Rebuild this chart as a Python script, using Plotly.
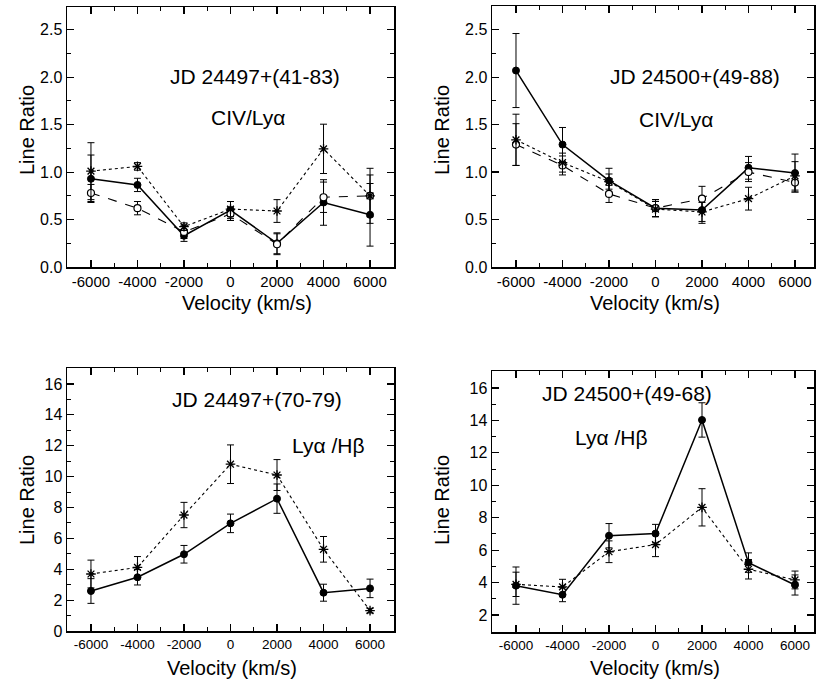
import plotly.graph_objects as go

W, H = 816, 688

velocity = [-6000, -4000, -2000, 0, 2000, 4000, 6000]
x_ticks = [-6000, -4000, -2000, 0, 2000, 4000, 6000]
x_tick_labels = ["-6000", "-4000", "-2000", "0", "2000", "4000", "6000"]

# Panel A: JD 24497+(41-83), CIV/Lya
a_filled = [0.93, 0.865, 0.33, 0.60, 0.25, 0.68, 0.55]
a_filled_err = [0.25, 0.07, 0.06, 0.09, 0.11, 0.24, 0.33]
a_open = [0.78, 0.62, 0.37, 0.56, 0.24, 0.735, 0.75]
a_open_err = [0.09, 0.07, 0.07, 0.07, 0.11, 0.16, 0.22]
a_star = [1.01, 1.06, 0.425, 0.61, 0.59, 1.245, 0.75]
a_star_err = [0.30, 0.04, 0.04, 0.08, 0.12, 0.26, 0.29]

# Panel B: JD 24500+(49-88), CIV/Lya
b_filled = [2.07, 1.29, 0.91, 0.62, 0.60, 1.045, 0.99]
b_filled_err = [0.39, 0.18, 0.13, 0.09, 0.14, 0.12, 0.20]
b_open = [1.29, 1.07, 0.77, 0.62, 0.72, 1.00, 0.89]
b_open_err = [0.22, 0.10, 0.09, 0.09, 0.13, 0.10, 0.10]
b_star = [1.34, 1.10, 0.90, 0.61, 0.58, 0.72, 0.96]
b_star_err = [0.27, 0.10, 0.08, 0.08, 0.10, 0.12, 0.15]

# Panel C: JD 24497+(70-79), Lya/Hb
c_filled = [2.59, 3.48, 4.97, 6.97, 8.57, 2.48, 2.76]
c_filled_err = [0.80, 0.50, 0.57, 0.60, 0.95, 0.55, 0.60]
c_star = [3.69, 4.12, 7.51, 10.8, 10.1, 5.29, 1.32]
c_star_err = [0.90, 0.70, 0.82, 1.25, 1.00, 0.83, 0.15]

# Panel D: JD 24500+(49-68), Lya/Hb
d_filled = [3.81, 3.25, 6.89, 7.02, 14.03, 5.23, 3.85]
d_filled_err = [1.15, 0.43, 0.75, 0.57, 1.06, 0.60, 0.62]
d_star = [3.89, 3.73, 5.90, 6.34, 8.64, 4.82, 4.16]
d_star_err = [0.75, 0.47, 0.67, 0.74, 1.15, 0.60, 0.55]

FONT = "Liberation Sans, Arial, Helvetica, sans-serif"

fig = go.Figure()


def add_series(xa, ya, y, err, kind):
    if kind == "filled":
        marker = dict(symbol="circle", size=7, color="black", line=dict(color="black", width=1))
        line = dict(color="black", width=1.5, dash="solid")
    elif kind == "open":
        marker = dict(symbol="circle", size=7, color="white", line=dict(color="black", width=1.2))
        line = dict(color="black", width=1.1, dash="dash")
    else:
        marker = dict(symbol="asterisk-open", size=8, color="black", line=dict(color="black", width=1.3))
        line = dict(color="black", width=1.1, dash="dot")
    fig.add_trace(go.Scatter(
        x=velocity, y=y, xaxis=xa, yaxis=ya, mode="lines+markers",
        marker=marker, line=line, showlegend=False, hoverinfo="skip",
        error_y=dict(type="data", array=err, visible=True, color="black", thickness=1, width=3.5),
    ))


add_series("x", "y", a_filled, a_filled_err, "filled")
add_series("x", "y", a_open, a_open_err, "open")
add_series("x", "y", a_star, a_star_err, "star")

add_series("x2", "y2", b_filled, b_filled_err, "filled")
add_series("x2", "y2", b_open, b_open_err, "open")
add_series("x2", "y2", b_star, b_star_err, "star")

add_series("x3", "y3", c_filled, c_filled_err, "filled")
add_series("x3", "y3", c_star, c_star_err, "star")

add_series("x4", "y4", d_filled, d_filled_err, "filled")
add_series("x4", "y4", d_star, d_star_err, "star")


def fx(px):
    return px / W


def fy(py):
    return 1 - py / H


def xaxis(left, right, rng, anchor, size=15):
    return dict(
        domain=[fx(left), fx(right)], range=rng, anchor=anchor, automargin=False,
        tickmode="array", tickvals=x_ticks, ticktext=x_tick_labels,
        ticks="inside", ticklen=7, tickwidth=1.2, tickcolor="black",
        showline=True, linecolor="black", linewidth=1.5, mirror="ticks",
        showgrid=False, zeroline=False,
        minor=dict(ticks="inside", dtick=1000, tick0=0, ticklen=4, tickcolor="black", tickwidth=1, showgrid=False),
        tickfont=dict(family=FONT, size=size, color="black"),
    )


def yaxis(top, bottom, rng, anchor, dtick, minor, fmt):
    return dict(
        domain=[fy(bottom), fy(top)], range=rng, anchor=anchor, automargin=False,
        dtick=dtick, tick0=0, tickformat=fmt,
        ticks="inside", ticklen=7, tickwidth=1.2, tickcolor="black",
        showline=True, linecolor="black", linewidth=1.5, mirror="ticks",
        showgrid=False, zeroline=False,
        minor=dict(ticks="inside", dtick=minor, tick0=0, ticklen=4, tickcolor="black", tickwidth=1, showgrid=False),
        tickfont=dict(family=FONT, size=16, color="black"),
    )


fig.update_layout(
    template="none",
    width=W, height=H,
    margin=dict(l=0, r=0, t=0, b=0, pad=0),
    paper_bgcolor="white", plot_bgcolor="white",
    font=dict(family=FONT, color="black"),
    hovermode=False,
    xaxis=xaxis(67, 394, [-7030, 7030], "y"),
    yaxis=yaxis(7, 267, [0, 2.74], "x", 0.5, 0.25, ".1f"),
    xaxis2=xaxis(492, 814, [-7032, 6817], "y2"),
    yaxis2=yaxis(6, 267, [0, 2.75], "x2", 0.5, 0.25, ".1f"),
    xaxis3=xaxis(67, 394, [-7030, 7030], "y3", size=13.5),
    yaxis3=yaxis(368, 631, [0, 17.03], "x3", 2, 1, "d"),
    xaxis4=xaxis(492, 814, [-7032, 6817], "y4", size=13.5),
    yaxis4=yaxis(371, 632, [0.95, 17.05], "x4", 2, 1, "d"),
)

texts = [
    ("JD 24497+(41-83)", 255, 77, 21),
    ("CIV/Ly\u03b1", 248, 118, 21),
    ("JD 24500+(49-88)", 695, 77, 21),
    ("CIV/Ly\u03b1", 676, 120, 21),
    ("JD 24497+(70-79)", 257, 399, 21),
    ("Ly\u03b1 /H\u03b2", 328, 445, 21),
    ("JD 24500+(49-68)", 627, 393, 21),
    ("Ly\u03b1 /H\u03b2", 611, 437, 21),
    ("Velocity (km/s)", 247, 303, 20),
    ("Velocity (km/s)", 655, 303, 20),
    ("Velocity (km/s)", 232, 668, 20),
    ("Velocity (km/s)", 655, 668, 20),
]
for t, px, py, sz in texts:
    fig.add_annotation(
        text=t, x=fx(px), y=fy(py), xref="paper", yref="paper",
        xanchor="center", yanchor="middle", showarrow=False,
        font=dict(family=FONT, size=sz, color="black"),
    )

for px, py in [(27, 130), (442, 130), (27, 500), (442, 500)]:
    fig.add_annotation(
        text="Line Ratio", x=fx(px), y=fy(py), xref="paper", yref="paper",
        xanchor="center", yanchor="middle", showarrow=False, textangle=-90,
        font=dict(family=FONT, size=20, color="black"),
    )

fig.write_html(
    "out.html",
    config={"displayModeBar": False, "staticPlot": True},
    post_script="document.body.style.margin='0';document.body.style.overflow='hidden';",
)
